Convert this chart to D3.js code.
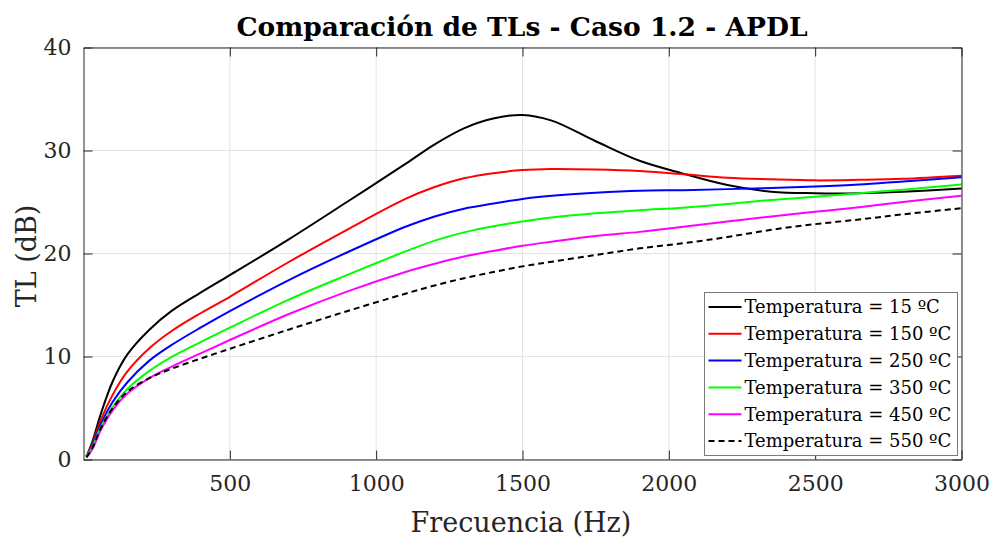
<!DOCTYPE html>
<html>
<head>
<meta charset="utf-8">
<script src="https://cdn.jsdelivr.net/npm/d3@7"></script>
<style>
  body { margin: 0; background: #fff; }
  svg { display: block; font-family: 'DejaVu Serif', serif; }
</style>
</head>
<body>
<div id="chart"></div>
<script>
// frequency grid (Hz)
var freqs = [10, 30, 60, 100, 150, 225, 300, 400, 500, 700, 900, 1100, 1200, 1300, 1400, 1500, 1600, 1750, 1900, 2050, 2200, 2350, 2500, 2650, 2800, 3000];

// TL (dB) per temperature
var tl15  = [0.3, 1.7, 4.5, 7.6, 10.2, 12.6, 14.4, 16.2, 17.9, 21.35, 25.0, 28.7, 30.6, 32.15, 33.1, 33.45, 32.9, 30.9, 29.0, 27.75, 26.65, 26.0, 25.85, 25.85, 26.0, 26.3];
var tl150 = [0.3, 1.5, 3.9, 6.3, 8.55, 10.8, 12.45, 14.2, 15.8, 19.15, 22.3, 25.3, 26.45, 27.3, 27.8, 28.1, 28.2, 28.15, 28.0, 27.7, 27.35, 27.2, 27.1, 27.15, 27.25, 27.55];
var tl250 = [0.3, 1.35, 3.5, 5.6, 7.5, 9.6, 11.1, 12.8, 14.4, 17.4, 20.1, 22.6, 23.6, 24.35, 24.85, 25.3, 25.6, 25.9, 26.1, 26.15, 26.25, 26.35, 26.5, 26.7, 27.0, 27.4];
var tl350 = [0.3, 1.2, 3.2, 5.1, 6.85, 8.6, 9.95, 11.4, 12.8, 15.5, 17.9, 20.2, 21.25, 22.05, 22.65, 23.1, 23.5, 23.9, 24.2, 24.45, 24.8, 25.2, 25.5, 25.85, 26.2, 26.7];
var tl450 = [0.2, 1.0, 2.9, 4.8, 6.4, 7.9, 9.0, 10.3, 11.6, 14.1, 16.3, 18.2, 19.0, 19.7, 20.25, 20.75, 21.15, 21.7, 22.1, 22.6, 23.1, 23.6, 24.05, 24.5, 25.0, 25.6];
var tl550 = [0.2, 1.1, 3.1, 5.0, 6.6, 7.9, 8.8, 9.8, 10.75, 12.6, 14.4, 16.1, 16.9, 17.6, 18.2, 18.75, 19.2, 19.85, 20.5, 21.0, 21.6, 22.3, 22.85, 23.3, 23.8, 24.4];

var labels = ['Temperatura = 15 ºC', 'Temperatura = 150 ºC', 'Temperatura = 250 ºC',
              'Temperatura = 350 ºC', 'Temperatura = 450 ºC', 'Temperatura = 550 ºC'];
var colors = ['#000000', '#ff0000', '#0000ff', '#00ff00', '#ff00ff', '#000000'];
var dashes = [null, null, null, null, null, '6,4'];
var seriesValues = [tl15, tl150, tl250, tl350, tl450, tl550];

var xTicks = [500, 1000, 1500, 2000, 2500, 3000];
var yTicks = [0, 10, 20, 30, 40];

var fullWidth = 994;
var fullHeight = 540;
var margin = {top: 47.5, left: 83.5};
var width = 878;
var height = 412;

var svg = d3.select('#chart').append('svg')
  .attr('width', fullWidth)
  .attr('height', fullHeight);

var g = svg.append('g')
  .attr('transform', 'translate(' + margin.left + ',' + margin.top + ')');

var x = d3.scaleLinear().domain([0, 3000]).range([0, width]);
var y = d3.scaleLinear().domain([0, 40]).range([height, 0]);

// grid
g.append('g').selectAll('line.gx')
    .data(xTicks)
  .enter().append('line')
    .attr('x1', function(d) { return x(d); })
    .attr('x2', function(d) { return x(d); })
    .attr('y1', 0).attr('y2', height)
    .attr('stroke', '#e3e3e3');
g.append('g').selectAll('line.gy')
    .data(yTicks)
  .enter().append('line')
    .attr('y1', function(d) { return y(d); })
    .attr('y2', function(d) { return y(d); })
    .attr('x1', 0).attr('x2', width)
    .attr('stroke', '#e3e3e3');

// curves
var series = seriesValues.map(function(vals, i) {
  return {
    label: labels[i], color: colors[i], dash: dashes[i],
    points: freqs.map(function(f, j) { return [f, vals[j]]; })
  };
});

var line = d3.line()
  .x(function(d) { return x(d[0]); })
  .y(function(d) { return y(d[1]); })
  .curve(d3.curveCatmullRom.alpha(0.5));

g.append('g').selectAll('path.curve')
    .data(series)
  .enter().append('path')
    .attr('d', function(d) { return line(d.points); })
    .attr('fill', 'none')
    .attr('stroke', function(d) { return d.color; })
    .attr('stroke-width', 2)
    .attr('stroke-dasharray', function(d) { return d.dash; });

// axes, ticks pointing inward like matlab
var tickLen = 9;
function styleAxis(sel) {
  sel.select('.domain').attr('stroke', '#262626');
  sel.selectAll('.tick line').attr('stroke', '#262626');
  sel.selectAll('.tick text')
    .attr('fill', '#262626')
    .style('font-family', "'DejaVu Serif', serif")
    .style('font-size', '22px');
}

g.append('g')
  .attr('transform', 'translate(0,' + height + ')')
  .call(d3.axisBottom(x).tickValues(xTicks).tickFormat(d3.format('d'))
    .tickSizeInner(-tickLen).tickSizeOuter(0).tickPadding(16))
  .call(styleAxis);
g.append('g')
  .call(d3.axisTop(x).tickValues(xTicks).tickSizeInner(-tickLen).tickSizeOuter(0).tickFormat(''))
  .call(styleAxis);
g.append('g')
  .call(d3.axisLeft(y).tickValues(yTicks).tickSizeInner(-tickLen).tickSizeOuter(0).tickPadding(12))
  .call(styleAxis);
g.append('g')
  .attr('transform', 'translate(' + width + ',0)')
  .call(d3.axisRight(y).tickValues(yTicks).tickSizeInner(-tickLen).tickSizeOuter(0).tickFormat(''))
  .call(styleAxis);

// titles
svg.append('text')
  .attr('x', 522).attr('y', 36)
  .attr('text-anchor', 'middle')
  .style('font-size', '26.5px')
  .style('font-weight', 'bold')
  .attr('fill', '#000')
  .text('Comparación de TLs - Caso 1.2 - APDL');

svg.append('text')
  .attr('x', 521).attr('y', 532)
  .attr('text-anchor', 'middle')
  .style('font-size', '27px')
  .attr('fill', '#262626')
  .text('Frecuencia (Hz)');

svg.append('text')
  .attr('transform', 'translate(36,256) rotate(-90)')
  .attr('text-anchor', 'middle')
  .style('font-size', '27px')
  .attr('fill', '#262626')
  .text('TL (dB)');

// legend
var legend = svg.append('g').attr('transform', 'translate(704.5,292.5)');
legend.append('rect')
  .attr('width', 253).attr('height', 163)
  .attr('fill', '#fff')
  .attr('stroke', '#7a7a7a');

var rows = legend.selectAll('g.row')
    .data(series)
  .enter().append('g')
    .attr('transform', function(d, i) { return 'translate(0,' + (14.5 + i * 26.8) + ')'; });
rows.append('line')
  .attr('x1', 4).attr('x2', 37)
  .attr('stroke', function(d) { return d.color; })
  .attr('stroke-width', 2)
  .attr('stroke-dasharray', function(d) { return d.dash; });
rows.append('text')
  .attr('x', 40)
  .attr('dy', '0.35em')
  .style('font-size', '18px')
  .attr('fill', '#000')
  .text(function(d) { return d.label; });
</script>
</body>
</html>
